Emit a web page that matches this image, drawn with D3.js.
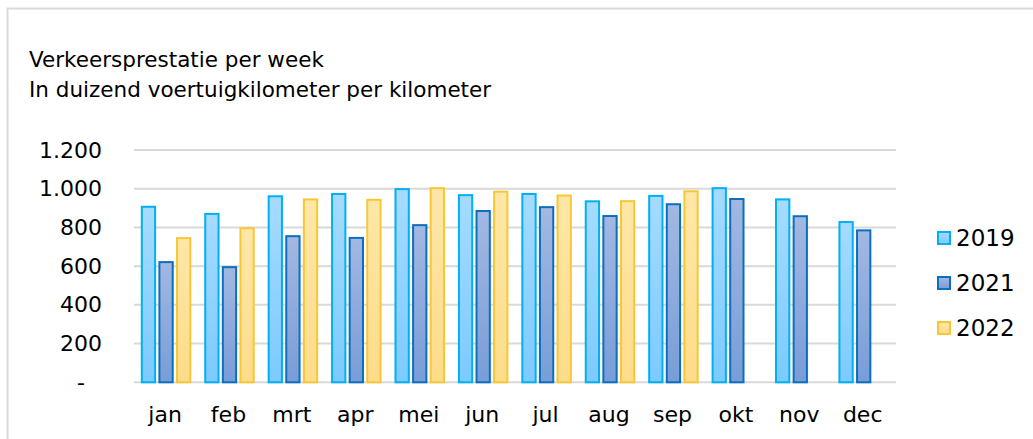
<!DOCTYPE html>
<html><head><meta charset="utf-8">
<script src="https://cdn.jsdelivr.net/npm/d3@7"></script>
<style>
html,body{margin:0;padding:0;background:#fff;}
svg{display:block;font-family:"DejaVu Sans",Verdana,sans-serif;}
</style></head>
<body>
<svg id="chart" width="1033" height="439"></svg>
<script>
const months = ["jan","feb","mrt","apr","mei","jun","jul","aug","sep","okt","nov","dec"];
const series = ["2019","2021","2022"];
const values2019 = [912, 875, 966, 978, 1003, 972, 978, 940, 968, 1008, 950, 833];
const values2021 = [626, 600, 760, 751, 817, 890, 910, 864, 925, 952, 863, 790];
const values2022 = [750, 801, 950, 948, 1008, 990, 970, 941, 992, null, null, null];
const yTicks = [0, 200, 400, 600, 800, 1000, 1200];
const titleLines = ["Verkeersprestatie per week", "In duizend voertuigkilometer per kilometer"];

const seriesValues = {"2019": values2019, "2021": values2021, "2022": values2022};
const styles = {
  "2019": {top:"#a6dbff", bottom:"#7ccaff", stroke:"#00b0f0"},
  "2021": {top:"#a3b8e2", bottom:"#789dd7", stroke:"#0a6fbf"},
  "2022": {top:"#ffe7a8", bottom:"#fddc8a", stroke:"#f7c737"}
};

const svg = d3.select("#chart");
const defs = svg.append("defs");
series.forEach(s => {
  const g = defs.append("linearGradient").attr("id","g"+s).attr("x1",0).attr("y1",0).attr("x2",0).attr("y2",1);
  g.append("stop").attr("offset","0%").attr("stop-color",styles[s].top);
  g.append("stop").attr("offset","100%").attr("stop-color",styles[s].bottom);
});

// border
svg.append("rect").attr("x",7.5).attr("y",8.5).attr("width",1040).attr("height",440)
  .attr("fill","none").attr("stroke","#d9d9d9").attr("stroke-width",2);

// title
svg.append("text").attr("font-size",21.5).attr("fill","#000")
  .selectAll("tspan").data(titleLines).join("tspan")
  .attr("x",29).attr("y",(d,i)=>67+i*30).text(d=>d);

const x0 = d3.scaleBand().domain(months).range([134.35, 895.4]).paddingInner(0).paddingOuter(0);
const x1 = d3.scaleBand().domain(series).range([0, x0.bandwidth()]).paddingInner(0.13).paddingOuter(0.367);
const y = d3.scaleLinear().domain([0,1200]).range([382.3,150]);

const loc = d3.formatLocale({decimal:",", thousands:".", grouping:[3], currency:["€",""]});
const fmt = loc.format(",d");

// gridlines
svg.append("g").selectAll("line").data(yTicks).join("line")
  .attr("x1",134).attr("x2",896).attr("y1",d=>y(d)).attr("y2",d=>y(d))
  .attr("stroke","#d9d9d9").attr("stroke-width",2);

// y axis labels
const yAxis = d3.axisLeft(y).tickValues(yTicks).tickSize(0).tickPadding(0)
  .tickFormat(d => d===0 ? "-" : fmt(d));
const ya = svg.append("g").attr("transform","translate(102,0)").call(yAxis);
ya.select(".domain").remove();
ya.selectAll("text").attr("font-size",22).attr("fill","#000").attr("font-family","DejaVu Sans, Verdana, sans-serif")
  .attr("dx", d => d===0 ? -17 : 0);

// bars
const groups = svg.append("g").selectAll("g").data(months).join("g")
  .attr("transform", d => `translate(${x0(d)},0)`);
groups.selectAll("rect").data((m,i) => series.map(s => ({s, v: seriesValues[s][i]})).filter(d => d.v != null))
  .join("rect")
  .attr("x", d => x1(d.s)+1)
  .attr("width", x1.bandwidth()-2)
  .attr("y", d => y(d.v)+1)
  .attr("height", d => y(0)-y(d.v)-1)
  .attr("fill", d => `url(#g${d.s})`)
  .attr("stroke", d => styles[d.s].stroke)
  .attr("stroke-width", 2);

// x axis labels
const xAxis = d3.axisBottom(x0).tickSize(0).tickPadding(0);
const xa = svg.append("g").attr("transform","translate(0,422)").call(xAxis);
xa.select(".domain").remove();
xa.selectAll("text").attr("font-size",22).attr("fill","#000").attr("font-family","DejaVu Sans, Verdana, sans-serif")
  .attr("dy",0).attr("dx",-1);

// legend
const leg = svg.append("g").selectAll("g").data(series).join("g")
  .attr("transform",(d,i)=>`translate(937,${238+i*45})`);
leg.append("rect").attr("x",1).attr("y",-6).attr("width",12).attr("height",12)
  .attr("fill",d=>`url(#g${d})`).attr("stroke",d=>styles[d].stroke).attr("stroke-width",2);
leg.append("text").attr("x",19).attr("y",0).attr("dy","0.36em").attr("font-size",23).attr("fill","#000").text(d=>d);
</script>
</body></html>
